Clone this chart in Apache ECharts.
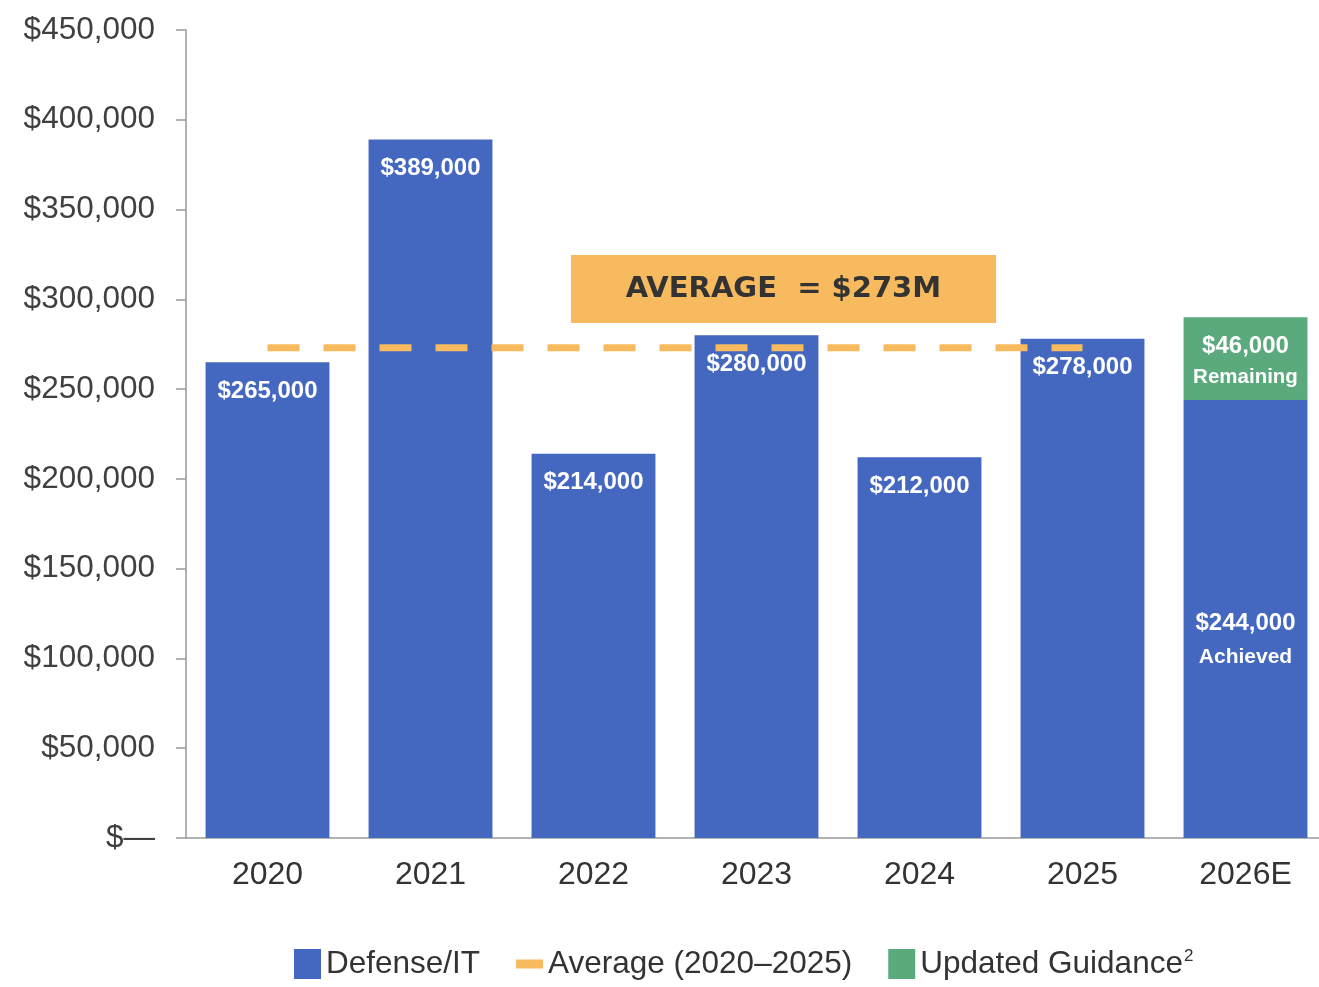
<!DOCTYPE html>
<html>
<head>
<meta charset="utf-8">
<script src="https://cdn.jsdelivr.net/npm/echarts@6/dist/echarts.min.js"></script>
<style>
html,body{margin:0;padding:0;background:#fff;overflow:hidden;}
#chart{width:1330px;height:987px;}
</style>
</head>
<body>
<div id="chart"></div>
<script>
const categories = ['2020', '2021', '2022', '2023', '2024', '2025', '2026E'];
const defenseIT = [265000, 389000, 214000, 280000, 212000, 278000, 244000];
const guidance = [null, null, null, null, null, null, 46000];
const average = [273000, 273000, 273000, 273000, 273000, 273000, null];
const yTickLabels = ['$\u2014', '$50,000', '$100,000', '$150,000', '$200,000', '$250,000', '$300,000', '$350,000', '$400,000', '$450,000'];
const averageText = 'AVERAGE  = $273M';

const BLUE = '#4467BF', GREEN = '#5BAA7E', ORANGE = '#F7BA5E';
const FONT = 'Liberation Sans, Arial, sans-serif';
const fmt = v => '$' + v.toLocaleString('en-US');

const chart = echarts.init(document.getElementById('chart'));

const defData = defenseIT.map((v, i) => {
  if (i === defenseIT.length - 1) {
    return {
      value: v,
      label: {
        position: 'inside',
        offset: [0, 21],
        formatter: '{v|' + fmt(v) + '}\n{w|Achieved}',
        rich: {
          v: {fontSize: 24, fontWeight: 'bold', color: '#fff', fontFamily: FONT, lineHeight: 34},
          w: {fontSize: 21, fontWeight: 'bold', color: '#fff', fontFamily: FONT, lineHeight: 34}
        }
      }
    };
  }
  return v;
});

const guideData = guidance.map(v => v == null ? null : {
  value: v,
  label: {
    show: true,
    position: 'inside',
    offset: [0, 3],
    formatter: '{v|' + fmt(v) + '}\n{w|Remaining}',
    rich: {
      v: {fontSize: 24, fontWeight: 'bold', color: '#fff', fontFamily: FONT, lineHeight: 31},
      w: {fontSize: 20.5, fontWeight: 'bold', color: '#fff', fontFamily: FONT, lineHeight: 31}
    }
  }
});

const option = {
  animation: false,
  backgroundColor: '#fff',
  grid: {left: 186, right: 3, top: 30, bottom: 149, containLabel: false},
  xAxis: {
    type: 'category',
    data: categories,
    axisLine: {show: true, lineStyle: {color: '#9a9a9a', width: 1.5}},
    axisTick: {show: false},
    axisLabel: {fontSize: 32, color: '#333', fontFamily: FONT, margin: 21}
  },
  yAxis: {
    type: 'value',
    min: 0, max: 450000, interval: 50000,
    axisLine: {show: true, lineStyle: {color: '#9a9a9a', width: 1.5}},
    axisTick: {show: true, length: 10, lineStyle: {color: '#9a9a9a', width: 1.5}},
    splitLine: {show: false},
    axisLabel: {
      fontSize: 31.5, color: '#404040', fontFamily: FONT, margin: 31,
      padding: [6, 0, 0, 0],
      formatter: v => yTickLabels[Math.round(v / 50000)]
    }
  },
  legend: {
    bottom: 2,
    left: 289,
    itemWidth: 27,
    itemHeight: 30,
    itemGap: 36,
    textStyle: {
      fontSize: 31.5, color: '#333', fontFamily: FONT,
      rich: {
        sup: {fontSize: 17, color: '#333', fontFamily: FONT, verticalAlign: 'top', padding: [0, 0, 14, 1]}
      }
    },
    formatter: name => name === 'Updated Guidance' ? 'Updated Guidance{sup|2}' : name,
    data: [
      {name: 'Defense/IT', icon: 'rect', itemStyle: {color: BLUE}},
      {name: 'Average (2020\u20132025)', icon: 'path://M0,0 L30,0 L30,10 L0,10 Z', itemStyle: {color: ORANGE, borderWidth: 0}},
      {name: 'Updated Guidance', icon: 'rect', itemStyle: {color: GREEN}}
    ]
  },
  series: [
    {
      name: 'Defense/IT',
      type: 'bar',
      stack: 'total',
      barWidth: '76%',
      itemStyle: {color: BLUE},
      label: {
        show: true,
        position: 'insideTop',
        distance: 17,
        color: '#fff',
        fontSize: 24,
        fontWeight: 'bold',
        fontFamily: FONT,
        formatter: p => fmt(p.value)
      },
      data: defData,
      z: 2
    },
    {
      name: 'Updated Guidance',
      type: 'bar',
      stack: 'total',
      barWidth: '76%',
      itemStyle: {color: GREEN},
      label: {show: true},
      data: guideData,
      z: 2
    },
    {
      name: 'Average (2020\u20132025)',
      type: 'line',
      data: average,
      showSymbol: false,
      symbol: 'none',
      itemStyle: {color: ORANGE},
      lineStyle: {color: ORANGE, width: 7, type: [32, 24], cap: 'butt'},
      z: 5
    }
  ],
  graphic: [
    {
      type: 'group',
      left: 571,
      top: 255,
      children: [
        {type: 'rect', shape: {x: 0, y: 0, width: 425, height: 68}, style: {fill: ORANGE}},
        {
          type: 'text',
          x: 212.5, y: 34,
          style: {
            text: averageText,
            fontFamily: 'DejaVu Sans, sans-serif',
            fontWeight: 'bold',
            fontSize: 29,
            fill: '#333',
            align: 'center',
            verticalAlign: 'middle'
          }
        }
      ]
    }
  ]
};

chart.setOption(option);
</script>
</body>
</html>
